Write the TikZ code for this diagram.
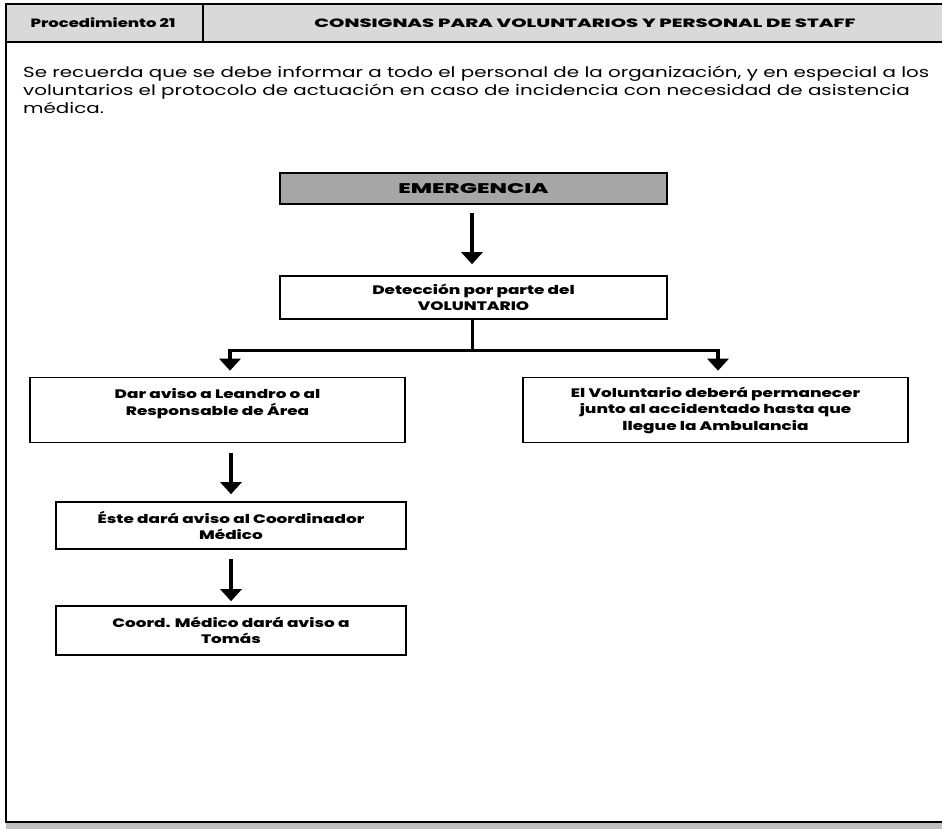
\documentclass[tikz,border=0pt]{standalone}
\usepackage{fontspec}
\setmainfont{Poppins}[FakeStretch=1.37, BoldFont={Poppins ExtraBold}]
\newfontfamily\capsfont{Poppins}[FakeStretch=1.63, BoldFont={Poppins ExtraBold}]
\usetikzlibrary{arrows.meta}
\definecolor{hdr}{HTML}{D9D9D9}
\definecolor{emg}{HTML}{A6A6A6}
\definecolor{foot}{HTML}{C0C0C0}
\tikzset{
  box/.style={draw, line width=1.6pt, align=center, inner sep=0pt, font=\fontsize{12.3}{16.5}\selectfont\bfseries},
  arr/.style={line width=3.5pt, -{Triangle[width=21pt,length=12pt]}},
  ln/.style={line width=3pt},
  frame/.style={line width=2pt},
}
\begin{document}
\begin{tikzpicture}[x=1pt,y=-1pt]
\useasboundingbox (0,0) rectangle (942,829);
% header
\fill[hdr] (6,4) rectangle (942,42);
\fill[foot] (6,822) rectangle (942,829);
\draw[frame] (942,4) -- (6,4) -- (6,822) -- (942,822);
\draw[frame] (6,42) -- (942,42);
\draw[frame] (203,4) -- (203,42);
\node[font=\fontsize{12}{14}\selectfont\bfseries] (proc) at (103,23) {Procedimiento 21};
\node[font=\capsfont\fontsize{12}{14}\selectfont\bfseries] (title) at (585,23) {CONSIGNAS PARA VOLUNTARIOS Y PERSONAL DE STAFF};
% paragraph
\node[anchor=north west, align=left, inner sep=0pt, font=\fontsize{14.5}{18}\selectfont] (para) at (23,66)
 {Se recuerda que se debe informar a todo el personal de la organización, y en especial a los\\
  voluntarios el protocolo de actuación en caso de incidencia con necesidad de asistencia\\
  médica.};
% boxes
\node[box, fill=emg, minimum width=387pt, minimum height=31pt, font=\capsfont\fontsize{14}{16}\selectfont\bfseries] (emerg) at (473.5,188.5) {EMERGENCIA};
\node[box, minimum width=387pt, minimum height=43pt] (det) at (473.5,297.5) {Detección por parte del\\VOLUNTARIO};
\node[box, minimum width=375pt, minimum height=65pt] (dar) at (217.5,410) {Dar aviso a Leandro o al\\Responsable de Área\\~};
\node[box, minimum width=385pt, minimum height=65pt] (vol) at (715.5,410) {El Voluntario deberá permanecer\\junto al accidentado hasta que\\llegue la Ambulancia};
\node[box, minimum width=350pt, minimum height=47pt] (este) at (231,525.5) {Éste dará aviso al Coordinador\\Médico};
\node[box, minimum width=350pt, minimum height=49pt] (coord) at (231,630.5) {Coord. Médico dará aviso a\\Tomás};
% connectors
\draw[arr, shorten <=8pt, shorten >=11pt] ([xshift=-1.5pt]emerg.south) -- ([xshift=-1.5pt]det.north);
\draw[ln] ([xshift=-1.5pt]det.south) -- ++(0,31) coordinate (fork);
\draw[ln] ([xshift=12.5pt]fork -| dar.north) -- ([xshift=2.5pt]fork -| vol.north);
\draw[arr, shorten <=-1.5pt, shorten >=6pt] ([xshift=12.5pt]fork -| dar.north) -- ([xshift=12.5pt]dar.north);
\draw[arr, shorten <=-1.5pt, shorten >=6pt] ([xshift=2.5pt]fork -| vol.north) -- ([xshift=2.5pt]vol.north);
\draw[arr, shorten <=10pt, shorten >=7pt] (este.north |- dar.south) -- (este.north);
\draw[arr, shorten <=9pt, shorten >=4pt] (este.south) -- (coord.north);
\end{tikzpicture}
\end{document}
